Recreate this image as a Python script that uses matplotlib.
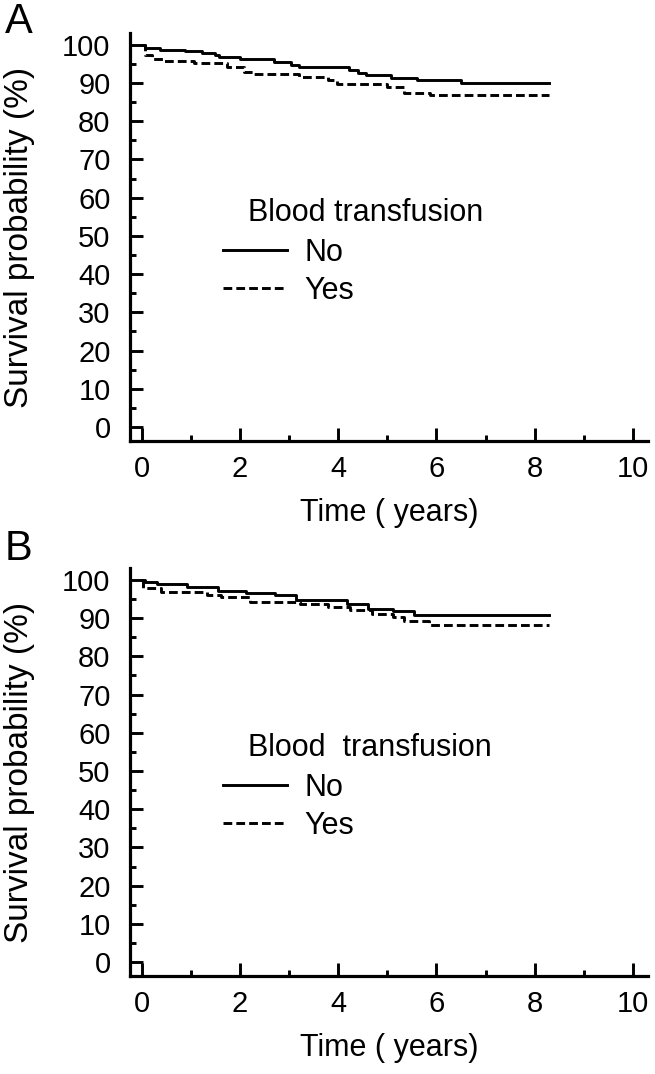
import matplotlib
matplotlib.use("Agg")
import matplotlib.pyplot as plt
from matplotlib.ticker import MultipleLocator

# Шрифт похожий на Arial
plt.rcParams['font.family'] = ['Liberation Sans', 'DejaVu Sans']

# Данные панели A (время, годы / выживаемость, %)
a_no_t = [0, 0.07, 0.37, 0.89, 1.23, 1.49, 1.57, 2.0, 2.69, 3.03, 3.2, 4.23, 4.4, 4.57, 5.08, 5.6, 6.5, 8.3]
a_no_s = [100, 99.1, 98.7, 98.3, 97.8, 97.4, 96.8, 96.3, 95.5, 94.8, 94.3, 93.5, 92.6, 92.2, 91.3, 90.8, 90.1, 90.1]
a_yes_t = [0, 0.07, 0.2, 0.46, 1.06, 1.74, 2.08, 2.26, 3.2, 3.8, 3.97, 5.0, 5.34, 5.86, 8.3]
a_yes_s = [100, 97.4, 96.3, 95.8, 95.2, 94.3, 93.0, 92.3, 91.6, 90.9, 89.7, 88.9, 87.4, 86.8, 86.8]

# Данные панели B
b_no_t = [0, 0.06, 0.31, 0.93, 1.55, 2.13, 2.71, 3.15, 4.17, 4.6, 5.11, 5.55, 8.3]
b_no_s = [100, 99.4, 98.9, 98.2, 97.2, 96.5, 96.0, 94.7, 93.8, 92.5, 91.8, 90.8, 90.8]
b_yes_t = [0, 0.03, 0.39, 1.33, 1.62, 2.2, 3.22, 3.8, 4.24, 4.68, 5.11, 5.33, 5.84, 8.3]
b_yes_s = [100, 98.0, 96.7, 96.0, 95.4, 94.3, 93.6, 93.0, 92.1, 91.2, 90.3, 89.2, 88.1, 88.1]

legend_labels = ['No', 'Yes']
x_ticks = [0, 2, 4, 6, 8, 10]
y_ticks = [0, 10, 20, 30, 40, 50, 60, 70, 80, 90, 100]

fig = plt.figure(figsize=(6.55, 10.74), dpi=100)


def panel(rect, no_t, no_s, yes_t, yes_s, title, letter, letter_y):
    ax = fig.add_axes(rect)
    # Кривые Каплана-Мейера
    l1, = ax.step(no_t, no_s, where='post', color='black', lw=2.1)
    l2, = ax.step(yes_t, yes_s, where='post', color='black', lw=2.1, dashes=(3.0, 1.4))
    ax.set_xlim(-0.238, 10.31)
    ax.set_ylim(-3.66, 103.1)
    ax.set_xticks(x_ticks)
    ax.set_yticks(y_ticks)
    ax.xaxis.set_minor_locator(MultipleLocator(1))
    ax.yaxis.set_minor_locator(MultipleLocator(5))
    # Оси
    for s in ['top', 'right']:
        ax.spines[s].set_visible(False)
    for s in ['left', 'bottom']:
        ax.spines[s].set_linewidth(2.3)
    ax.tick_params(which='major', direction='in', length=9.5, width=2.1, labelsize=21)
    ax.tick_params(which='minor', direction='in', length=4.5, width=2.1)
    ax.tick_params(axis='x', which='major', pad=10)
    ax.tick_params(axis='y', which='major', pad=14)
    ax.set_xlabel('Time ( years)', fontsize=22, labelpad=11)
    ax.set_ylabel('Survival probability (%)', fontsize=24)
    ax.yaxis.set_label_coords(-0.183, 0.5)
    # Легенда
    ax.text(0.228, 0.558, title, transform=ax.transAxes, fontsize=22, va='center', ha='left')
    ax.legend([l1, l2], legend_labels, loc='upper left', bbox_to_anchor=(0.18, 0.498),
              frameon=False, fontsize=22, handlelength=2.1, handletextpad=0.55,
              labelspacing=0.26, borderpad=0, borderaxespad=0)
    fig.text(0.0076, letter_y, letter, fontsize=30, va='baseline', ha='left')
    return ax


panel([0.1985, 0.5894, 0.791, 0.3799], a_no_t, a_no_s, a_yes_t, a_yes_s,
      'Blood transfusion', 'A', 0.9693)
panel([0.1985, 0.0912, 0.791, 0.3799], b_no_t, b_no_s, b_yes_t, b_yes_s,
      'Blood  transfusion', 'B', 0.4786)

fig.savefig('out.png', dpi=100)
